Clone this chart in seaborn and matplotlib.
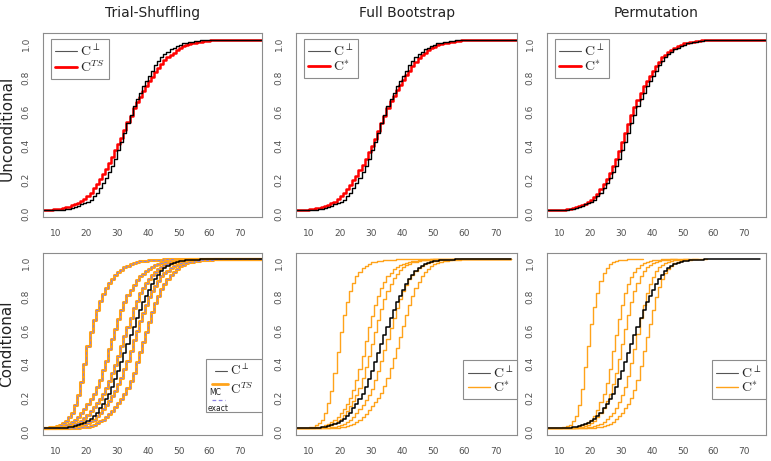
import numpy as np
import pandas as pd
import seaborn as sns
import matplotlib.pyplot as plt
from matplotlib.lines import Line2D
from matplotlib.patches import Rectangle

sns.set_style('white')
plt.rcParams['font.family'] = ['DejaVu Sans']
plt.rcParams['mathtext.fontset'] = 'cm'

X_LO, X_HI = 6, 77

# CDF values, one per integer count starting at *_start
# (0 before the list, 1 after it)
null_top_start = 13
null_top = [0.005, 0.008, 0.012, 0.018, 0.025, 0.033, 0.04, 0.048, 0.06, 0.08,
            0.10, 0.13, 0.157, 0.186, 0.22, 0.26, 0.30, 0.35, 0.40, 0.455,
            0.51, 0.56, 0.61, 0.65, 0.69, 0.73, 0.76, 0.79, 0.82, 0.85,
            0.875, 0.90, 0.915, 0.93, 0.945, 0.955, 0.965, 0.973, 0.98, 0.985,
            0.988, 0.99, 0.993, 0.995, 0.997, 0.998, 0.999]

ts_top_start = 9
ts_top = [0.003, 0.005, 0.007, 0.01, 0.014, 0.019, 0.026, 0.034, 0.042, 0.05,
          0.065, 0.083, 0.10, 0.127, 0.155, 0.18, 0.21, 0.243, 0.275, 0.31,
          0.35, 0.385, 0.425, 0.47, 0.515, 0.555, 0.60, 0.635, 0.665, 0.70,
          0.73, 0.76, 0.785, 0.81, 0.835, 0.86, 0.88, 0.90, 0.912, 0.925,
          0.94, 0.952, 0.962, 0.97, 0.976, 0.981, 0.985, 0.988, 0.99, 0.993,
          0.995, 0.997, 0.998, 0.999]

boot_top_start = 9
boot_top = [0.002, 0.004, 0.006, 0.009, 0.012, 0.017, 0.023, 0.03, 0.039, 0.048,
            0.062, 0.08, 0.097, 0.12, 0.147, 0.173, 0.20, 0.233, 0.267, 0.30,
            0.338, 0.377, 0.42, 0.465, 0.51, 0.555, 0.60, 0.638, 0.672, 0.705,
            0.735, 0.765, 0.795, 0.82, 0.848, 0.872, 0.893, 0.91, 0.925, 0.94,
            0.95, 0.96, 0.968, 0.975, 0.98, 0.985, 0.988, 0.99, 0.993, 0.995,
            0.997, 0.998, 0.999]

perm_top_start = 12
perm_top = [0.003, 0.006, 0.01, 0.015, 0.021, 0.029, 0.037, 0.046, 0.057, 0.075,
            0.096, 0.125, 0.153, 0.184, 0.218, 0.258, 0.30, 0.348, 0.398, 0.452,
            0.505, 0.556, 0.605, 0.647, 0.688, 0.727, 0.758, 0.788, 0.818, 0.848,
            0.873, 0.897, 0.914, 0.93, 0.944, 0.955, 0.965, 0.973, 0.98, 0.985,
            0.988, 0.991, 0.993, 0.995, 0.997, 0.998, 0.999]

null_cond_start = 12
null_cond = [0.002, 0.004, 0.006, 0.009, 0.013, 0.018, 0.025, 0.033, 0.043, 0.055,
             0.072, 0.093, 0.117, 0.145, 0.175, 0.205, 0.245, 0.29, 0.34, 0.39,
             0.445, 0.50, 0.55, 0.60, 0.65, 0.70, 0.745, 0.785, 0.82, 0.855,
             0.885, 0.91, 0.93, 0.947, 0.96, 0.97, 0.978, 0.984, 0.989, 0.992,
             0.994, 0.996, 0.997, 0.998, 0.999]

# conditional trial-shuffling, five conditioning values
ts_cond_starts = [7, 8, 10, 13, 16]
ts_cond = [
    [0.002, 0.005, 0.008, 0.013, 0.022, 0.033, 0.045, 0.065, 0.093, 0.14,
     0.195, 0.275, 0.38, 0.49, 0.57, 0.64, 0.70, 0.755, 0.795, 0.83,
     0.86, 0.885, 0.905, 0.925, 0.94, 0.953, 0.963, 0.972, 0.979, 0.984,
     0.988, 0.991, 0.993, 0.995, 0.996, 0.997, 0.998, 0.999],
    [0.002, 0.004, 0.006, 0.008, 0.01, 0.017, 0.026, 0.037, 0.05, 0.068,
     0.09, 0.115, 0.143, 0.172, 0.20, 0.243, 0.287, 0.345, 0.40, 0.467,
     0.53, 0.588, 0.645, 0.70, 0.745, 0.787, 0.82, 0.848, 0.875, 0.90,
     0.915, 0.93, 0.945, 0.955, 0.964, 0.972, 0.978, 0.983, 0.987, 0.99,
     0.993, 0.995, 0.997, 0.998, 0.999],
    [0.002, 0.004, 0.006, 0.008, 0.01, 0.016, 0.024, 0.033, 0.044, 0.058,
     0.078, 0.10, 0.123, 0.148, 0.174, 0.20, 0.24, 0.28, 0.325, 0.375,
     0.43, 0.49, 0.545, 0.60, 0.655, 0.71, 0.755, 0.80, 0.832, 0.86,
     0.885, 0.905, 0.925, 0.942, 0.955, 0.965, 0.973, 0.979, 0.984, 0.988,
     0.99, 0.993, 0.995, 0.997, 0.998, 0.999],
    [0.002, 0.004, 0.006, 0.008, 0.01, 0.015, 0.022, 0.031, 0.04, 0.05,
     0.07, 0.09, 0.112, 0.137, 0.162, 0.188, 0.22, 0.26, 0.30, 0.35,
     0.40, 0.46, 0.52, 0.578, 0.635, 0.685, 0.73, 0.777, 0.815, 0.845,
     0.873, 0.90, 0.917, 0.934, 0.95, 0.96, 0.969, 0.976, 0.982, 0.987,
     0.99, 0.993, 0.995, 0.997, 0.998, 0.999],
    [0.002, 0.004, 0.006, 0.008, 0.01, 0.015, 0.022, 0.031, 0.04, 0.05,
     0.065, 0.082, 0.10, 0.123, 0.148, 0.173, 0.20, 0.24, 0.28, 0.33,
     0.39, 0.45, 0.51, 0.57, 0.63, 0.69, 0.74, 0.785, 0.825, 0.855,
     0.885, 0.91, 0.928, 0.945, 0.958, 0.968, 0.976, 0.982, 0.986, 0.989,
     0.991, 0.994, 0.996, 0.998, 0.999],
]

# conditional full bootstrap
boot_cond_starts = [9, 11, 12, 15, 18]
boot_cond = [
    [0.003, 0.006, 0.01, 0.02, 0.033, 0.05, 0.09, 0.15, 0.22, 0.33,
     0.45, 0.57, 0.67, 0.75, 0.81, 0.86, 0.90, 0.927, 0.95, 0.963,
     0.974, 0.982, 0.987, 0.99, 0.993, 0.995, 0.997, 0.998, 0.999],
    [0.003, 0.005, 0.007, 0.01, 0.017, 0.026, 0.037, 0.05, 0.068, 0.09,
     0.115, 0.145, 0.18, 0.225, 0.285, 0.35, 0.43, 0.515, 0.60, 0.665,
     0.73, 0.785, 0.83, 0.868, 0.90, 0.922, 0.943, 0.955, 0.966, 0.975,
     0.981, 0.986, 0.99, 0.993, 0.995, 0.997, 0.998, 0.999],
    [0.002, 0.004, 0.006, 0.009, 0.014, 0.021, 0.03, 0.042, 0.057, 0.077,
     0.10, 0.13, 0.163, 0.195, 0.24, 0.295, 0.36, 0.43, 0.50, 0.57,
     0.64, 0.705, 0.765, 0.815, 0.855, 0.888, 0.915, 0.935, 0.952, 0.965,
     0.975, 0.982, 0.987, 0.991, 0.994, 0.996, 0.998, 0.999],
    [0.002, 0.004, 0.006, 0.009, 0.013, 0.019, 0.027, 0.037, 0.05, 0.067,
     0.088, 0.112, 0.138, 0.165, 0.195, 0.235, 0.285, 0.34, 0.40, 0.465,
     0.53, 0.595, 0.655, 0.71, 0.765, 0.81, 0.85, 0.883, 0.91, 0.932,
     0.95, 0.963, 0.973, 0.98, 0.986, 0.99, 0.993, 0.995, 0.997, 0.998,
     0.999],
    [0.002, 0.004, 0.006, 0.009, 0.013, 0.019, 0.027, 0.037, 0.05, 0.066,
     0.085, 0.107, 0.13, 0.155, 0.18, 0.21, 0.25, 0.30, 0.355, 0.415,
     0.475, 0.54, 0.605, 0.67, 0.73, 0.785, 0.83, 0.868, 0.90, 0.925,
     0.945, 0.96, 0.971, 0.979, 0.985, 0.99, 0.993, 0.995, 0.997, 0.998,
     0.999],
]

# conditional permutation (lines stop where the support ends)
perm_cond_starts = [10, 13, 14, 17, 20]
perm_cond_ends = [37, 48, 52, 55, 58]
perm_cond = [
    [0.003, 0.006, 0.012, 0.022, 0.04, 0.07, 0.14, 0.23, 0.36, 0.49,
     0.62, 0.72, 0.80, 0.87, 0.92, 0.95, 0.97, 0.982, 0.99, 0.994,
     0.997, 0.999],
    [0.002, 0.004, 0.007, 0.011, 0.017, 0.025, 0.036, 0.05, 0.075, 0.11,
     0.155, 0.205, 0.27, 0.35, 0.46, 0.555, 0.645, 0.73, 0.80, 0.855,
     0.895, 0.925, 0.948, 0.965, 0.977, 0.985, 0.99, 0.994, 0.997, 0.999],
    [0.002, 0.004, 0.006, 0.01, 0.015, 0.022, 0.032, 0.045, 0.065, 0.09,
     0.12, 0.16, 0.205, 0.26, 0.33, 0.41, 0.50, 0.59, 0.67, 0.745,
     0.81, 0.86, 0.90, 0.93, 0.952, 0.968, 0.979, 0.987, 0.992, 0.995,
     0.997, 0.999],
    [0.002, 0.004, 0.006, 0.009, 0.013, 0.019, 0.027, 0.038, 0.052, 0.07,
     0.093, 0.12, 0.155, 0.195, 0.245, 0.31, 0.385, 0.47, 0.56, 0.65,
     0.73, 0.80, 0.855, 0.897, 0.93, 0.953, 0.969, 0.98, 0.987, 0.992,
     0.995, 0.997, 0.999],
    [0.002, 0.004, 0.006, 0.009, 0.013, 0.019, 0.027, 0.038, 0.052, 0.07,
     0.093, 0.12, 0.145, 0.18, 0.225, 0.285, 0.37, 0.46, 0.54, 0.62,
     0.70, 0.775, 0.835, 0.882, 0.918, 0.945, 0.963, 0.976, 0.985, 0.99,
     0.994, 0.997, 0.999],
]

col_titles = ['Trial-Shuffling', 'Full Bootstrap', 'Permutation']
row_titles = ['Unconditional', 'Conditional']

ORANGE = '#ffa31a'
EXACT = '#8a80e0'
GREY = '#8c8c8c'
LEG_FS = 10


def steps(start, vals, end=X_HI):
    x = np.arange(X_LO, end + 1)
    y = np.r_[np.zeros(start - X_LO), vals, np.ones(end + 1 - start - len(vals))]
    return pd.DataFrame({'x': x, 'y': y})


def draw(ax, start, vals, end=X_HI, **kw):
    sns.lineplot(data=steps(start, vals, end), x='x', y='y', ax=ax,
                 drawstyle='steps-post', legend=False, **kw)


def style(ax):
    ax.set_xlim(X_LO, X_HI)
    ax.set_ylim(-0.04, 1.04)
    ax.set(xlabel='', ylabel='')
    ax.set_xticks(range(10, 71, 10))
    ax.set_yticks([0, 0.2, 0.4, 0.6, 0.8, 1.0])
    ax.set_yticklabels(['0.0', '0.2', '0.4', '0.6', '0.8', '1.0'])
    ax.tick_params(direction='out', length=4, width=0.8, colors=GREY,
                   labelcolor='#505050', labelsize=6.5, pad=5)
    ax.tick_params(axis='y', labelrotation=90)
    for s in ax.spines.values():
        s.set_visible(True)
        s.set_color(GREY)
        s.set_linewidth(0.8)


def legend(ax, handles, labels, anchor, loc):
    leg = ax.legend(handles, labels, loc=loc, bbox_to_anchor=anchor,
                    fontsize=LEG_FS, frameon=True, fancybox=False, edgecolor=GREY,
                    framealpha=1, borderpad=0.3, labelspacing=0.0,
                    handlelength=1.6, handletextpad=0.2, borderaxespad=0)
    leg.get_frame().set_linewidth(0.8)


fig = plt.figure(figsize=(7.71, 4.61), dpi=100)
cols = [(0.0562, 0.2835), (0.384, 0.287), (0.7095, 0.284)]
rows = [(0.530, 0.398), (0.0564, 0.3956)]
axes = [[fig.add_axes([c[0], r[0], c[1], r[1]]) for c in cols] for r in rows]

top_red = [(ts_top_start, ts_top), (boot_top_start, boot_top), (perm_top_start, perm_top)]
top_labels = [r'$\mathrm{C}^{TS}$', r'$\mathrm{C}^{*}$', r'$\mathrm{C}^{*}$']
for j in range(3):
    ax = axes[0][j]
    draw(ax, top_red[j][0], top_red[j][1], color='red', lw=1.8)
    draw(ax, null_top_start, null_top, color='black', lw=1.0)
    style(ax)
    legend(ax, [Line2D([], [], color='#555555', lw=0.8),
                Line2D([], [], color='red', lw=2)],
           [r'$\mathrm{C}^{\perp}$', top_labels[j]], (0.035, 0.969), 'upper left')

# bottom left: MC (orange) with exact (dashed) on top
ax = axes[1][0]
for s, v in zip(ts_cond_starts, ts_cond):
    draw(ax, s, v, color=ORANGE, lw=2.2)
    draw(ax, s, v, color=EXACT, lw=0.7, dashes=(3, 2))
draw(ax, null_cond_start, null_cond, color='black', lw=1.1)
style(ax)
ax.add_patch(Rectangle((0.744, 0.125), 0.256, 0.29, transform=ax.transAxes,
                       facecolor='white', edgecolor=GREY, lw=0.8, zorder=5))
ax.plot([0.786, 0.841], [0.352, 0.352], transform=ax.transAxes, color='#555555', lw=0.8, zorder=6)
ax.plot([0.772, 0.845], [0.282, 0.282], transform=ax.transAxes, color=ORANGE, lw=2, zorder=6)
ax.plot([0.772, 0.831], [0.192, 0.192], transform=ax.transAxes, color=EXACT, lw=0.9,
        dashes=(3, 2), zorder=6)
ax.text(0.854, 0.352, r'$\mathrm{C}^{\perp}$', transform=ax.transAxes, fontsize=9.5,
        va='center', zorder=7)
ax.text(0.854, 0.25, r'$\mathrm{C}^{TS}$', transform=ax.transAxes, fontsize=9.5,
        va='center', zorder=7)
ax.text(0.758, 0.235, 'MC', transform=ax.transAxes, fontsize=5.5, va='center', zorder=7)
ax.text(0.753, 0.148, 'exact', transform=ax.transAxes, fontsize=5.5, va='center', zorder=7)

# bottom middle: full bootstrap
ax = axes[1][1]
for s, v in zip(boot_cond_starts, boot_cond):
    draw(ax, s, v, X_HI - 2, color=ORANGE, lw=1.0)
draw(ax, null_cond_start, null_cond, X_HI - 2, color='black', lw=1.1)
style(ax)
legend(ax, [Line2D([], [], color='#555555', lw=0.8), Line2D([], [], color=ORANGE, lw=1)],
       [r'$\mathrm{C}^{\perp}$', r'$\mathrm{C}^{*}$'], (1.0, 0.411), 'upper right')

# bottom right: permutation
ax = axes[1][2]
for s, e, v in zip(perm_cond_starts, perm_cond_ends, perm_cond):
    draw(ax, s, v, e, color=ORANGE, lw=1.0)
draw(ax, null_cond_start, null_cond, X_HI - 2, color='black', lw=1.1)
style(ax)
legend(ax, [Line2D([], [], color='#555555', lw=0.8), Line2D([], [], color=ORANGE, lw=1)],
       [r'$\mathrm{C}^{\perp}$', r'$\mathrm{C}^{*}$'], (1.0, 0.411), 'upper right')

for j, t in enumerate(col_titles):
    fig.text(cols[j][0] + cols[j][1] / 2, 0.972, t, ha='center', va='center',
             fontsize=10, color='#222222')
fig.text(0.009, 1 - 128 / 461, row_titles[0], rotation=90, ha='center', va='center',
         fontsize=11, color='#222222')
fig.text(0.009, 1 - 344 / 461, row_titles[1], rotation=90, ha='center', va='center',
         fontsize=11, color='#222222')

fig.savefig('out.png', dpi=100)
